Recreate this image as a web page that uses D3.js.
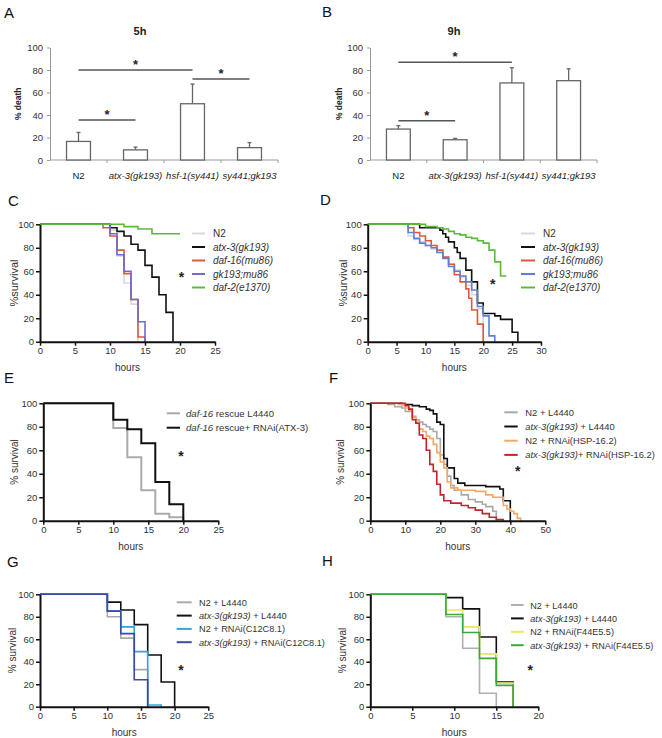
<!DOCTYPE html>
<html><head><meta charset="utf-8">
<script src="https://cdn.jsdelivr.net/npm/d3@7"></script>
<style>body{margin:0;background:#fff} svg{display:block;font-family:"Liberation Sans",Arial,sans-serif}</style>
</head><body><svg id="c" width="662" height="738"></svg>
<script>
// ---------------- DATA ----------------
const barCategories = ["N2", "atx-3(gk193)", "hsf-1(sy441)", "sy441;gk193"];
const barTicks = [0, 20, 40, 60, 80, 100];
const death5h = [16.5, 9, 50, 11];
const death5hErr = [8, 2.5, 17.5, 4.5];
const sig5h = [[0, 1, 35.5], [0, 2, 80], [2, 3, 72]];
const death9h = [27.5, 18, 68.5, 70.5];
const death9hErr = [3, 1.2, 13.5, 10.5];
const sig9h = [[0, 1, 35], [0, 2, 87]];
const survTicksY = [0, 20, 40, 60, 80, 100];

// Panel C
const cTicksX = [0, 5, 10, 15, 20, 25];
const cN2 = [[0,100],[10,95],[11,73],[12,50],[13,32],[14,0]];
const cAtx3 = [[0,100],[10,97],[11,94],[12,90],[13,83],[14,78],[15,65],[16,55],[17,40],[18,25],[19,0]];
const cDaf16 = [[0,100],[9,97],[10,90],[11,78],[12,58],[13,36],[14,4],[15,0]];
const cGkMu = [[0,100],[10,92],[11,74],[12,60],[13,36],[14,17],[15,0]];
const cDaf2 = [[0,100],[12,98],[14,96],[16,92],[20,92]];
const cLabels = [["", "N2"], ["atx-3(gk193)", ""], ["daf-16(mu86)", ""], ["gk193;mu86", ""], ["daf-2(e1370)", ""]];

// Panel D
const dTicksX = [0, 5, 10, 15, 20, 25, 30];
const dN2 = [[0,100],[7,90],[8,87],[9,85],[10,82],[11,79],[12,76],[13,72],[14,66],[15,61],[16,55],[17,48],[18,40],[19,28],[20,0]];
const dAtx3 = [[0,100],[9,97],[12.5,95],[13,92],[13.5,89],[14,85],[15,80],[15.5,76],[16,71],[17,61],[18,51],[19,33],[20,24],[22,22],[23,19],[25,8],[26,0]];
const dDaf16 = [[0,100],[7,97],[8,93],[9,90],[10,86],[11,82],[12,78],[13,72],[14,66],[15,57],[16,51],[17,45],[17.5,37],[18,27],[19,15],[20,0]];
const dGkMu = [[0,100],[7,93],[8,88],[9,84],[10,82],[11,80],[12,76],[13,71],[14,64],[15,60],[16,56],[17,51],[18,44],[19,30],[20,22],[21,5],[22,0]];
const dDaf2 = [[0,100],[10,98],[12,97],[13,96],[14,94],[15,92],[16,91],[17,89],[18,88],[19,86],[20,84],[21,78],[22,68],[23,56],[24,56]];
const dLabels = cLabels;

// Panel E
const eTicksX = [0, 5, 10, 15, 20, 25];
const eL4440 = [[0,100],[10,79],[12,54],[14,26],[16,6],[18,3],[20,0]];
const eAtx3 = [[0,100],[10,86],[12,78],[14,66],[16,33],[18,14],[20,0]];
const eLabels = [["daf-16", " rescue L4440"], ["daf-16", " rescue+ RNAi(ATX-3)"]];

// Panel F
const fTicksX = [0, 10, 20, 30, 40, 50];
const fN2L = [[0,100],[5,99],[7,97],[9,96],[10,93],[12,89],[13,86],[14,84],[15,82],[16,80],[17,78],[18,76],[19,70],[20,56],[21,48],[22,38],[23,30],[24,26],[26,22],[28,18],[30,16],[32,14],[33,12],[35,8],[36,0]];
const fAtxL = [[0,100],[9,99],[12,98],[14,97],[16,95],[17,94],[18,91],[19,84],[20,82],[21,53],[22,45],[24,36],[25,32],[27,30],[33,29],[37,27],[38,17],[40,0]];
const fN2H = [[0,100],[8,99],[10,96],[11,94],[12,88],[13,84],[14,78],[15,76],[16,72],[17,70],[18,65],[19,58],[20,50],[21,45],[22,33],[23,28],[25,26],[30,25],[33,22],[35,20],[38,13],[39,10],[40,8],[41,6],[42,2],[43,0]];
const fAtxH = [[0,100],[10,98],[11,95],[12,86],[13,83],[14,73],[15,70],[16,60],[17,48],[18,42],[19,31],[20,22],[21,17],[23,15],[26,13],[28,11],[30,9],[32,6],[34,3],[36,1],[38,0]];
const fLabels = [["", "N2 + L4440"], ["atx-3(gk193)", " + L4440"], ["", "N2 + RNAi(HSP-16.2)"], ["atx-3(gk193)", "+ RNAi(HSP-16.2)"]];

// Panel G
const gTicksX = [0, 5, 10, 15, 20, 25];
const gN2L = [[0,100],[10,80],[12,61],[14,33],[16,0]];
const gAtxL = [[0,100],[10,93],[12,86],[14,73],[16,46],[18,22],[20,0]];
const gN2C = [[0,100],[10,85],[12,71],[14,49],[16,1.5],[18,0]];
const gAtxC = [[0,100],[10,85],[12,65],[14,24],[16,0]];
const gLabels = [["", "N2 + L4440"], ["atx-3(gk193)", " + L4440"], ["", "N2 + RNAi(C12C8.1)"], ["atx-3(gk193)", " + RNAi(C12C8.1)"]];

// Panel H
const hTicksX = [0, 5, 10, 15, 20];
const hN2L = [[0,100],[9,80],[11,52],[13,12],[15,0]];
const hAtxL = [[0,100],[9,97],[11,87],[13,62],[15,22],[17,0]];
const hN2F = [[0,100],[9,86],[11,71],[13,47],[15,21],[17,0]];
const hAtxF = [[0,100],[9,82],[11,66],[13,43],[15,19],[17,0]];
const hLabels = [["", "N2 + L4440"], ["atx-3(gk193)", " + L4440"], ["", "N2 + RNAi(F44E5.5)"], ["atx-3(gk193)", " + RNAi(F44E5.5)"]];

// ---------------- DRAWING ----------------
const svg = d3.select("#c");

function panelLetter(t, x, y) {
  svg.append("text").attr("x", x).attr("y", y).attr("font-size", 15).attr("fill", "#111").text(t);
}

function barPanel(o) {
  const g = svg.append("g");
  const y = d3.scaleLinear().domain([0, 100]).range([o.y0, o.y100]);
  const x = d3.scaleBand().domain(barCategories).range([o.xl, o.xr]);
  const ya = g.append("g").attr("transform", `translate(${o.xl},0)`)
    .call(d3.axisLeft(y).tickValues(barTicks).tickSize(3).tickSizeOuter(0).tickPadding(4));
  ya.select(".domain").attr("stroke", "#999");
  ya.selectAll(".tick line").attr("stroke", "#999");
  ya.selectAll("text").attr("font-size", 9.5).attr("fill", "#333").attr("font-family", "Liberation Sans");
  g.append("line").attr("x1", o.xl).attr("x2", o.xr).attr("y1", o.y0).attr("y2", o.y0).attr("stroke", "#999");
  barCategories.forEach((c, i) => {
    if (i > 0) g.append("line").attr("x1", x(c)).attr("x2", x(c)).attr("y1", o.y0).attr("y2", o.y0 + 3).attr("stroke", "#999");
  });
  g.append("line").attr("x1", o.xr).attr("x2", o.xr).attr("y1", o.y0).attr("y2", o.y0 + 3).attr("stroke", "#999");
  const bw = x.bandwidth() * 0.42;
  const cx = c => x(c) + x.bandwidth() / 2;
  barCategories.forEach((c, i) => {
    const v = o.values[i], e = o.err[i];
    g.append("line").attr("x1", cx(c)).attr("x2", cx(c)).attr("y1", y(v)).attr("y2", y(v + e)).attr("stroke", "#666").attr("stroke-width", 1.3);
    g.append("line").attr("x1", cx(c) - 2).attr("x2", cx(c) + 2).attr("y1", y(v + e)).attr("y2", y(v + e)).attr("stroke", "#666").attr("stroke-width", 1.3);
    g.append("rect").attr("x", cx(c) - bw / 2).attr("y", y(v)).attr("width", bw).attr("height", o.y0 - y(v))
      .attr("fill", "#fff").attr("stroke", "#666").attr("stroke-width", 1.3);
    g.append("text").attr("x", cx(c)).attr("y", o.y0 + 19).attr("text-anchor", "middle").attr("font-size", 9.5)
      .attr("font-style", i === 0 ? "normal" : "italic").attr("fill", "#222").text(c);
  });
  o.sig.forEach(s => {
    const a = cx(barCategories[s[0]]), b = cx(barCategories[s[1]]);
    g.append("line").attr("x1", a).attr("x2", b).attr("y1", y(s[2])).attr("y2", y(s[2])).attr("stroke", "#555").attr("stroke-width", 1.5);
    g.append("text").attr("x", (a + b) / 2).attr("y", y(s[2]) - 1).attr("text-anchor", "middle").attr("font-size", 13).attr("font-weight", "bold").attr("fill", "#222").text("*");
  });
  g.append("text").attr("x", o.titleX).attr("y", 35).attr("text-anchor", "middle").attr("font-size", 11).attr("font-weight", "bold").attr("fill", "#222").text(o.title);
  g.append("text").attr("transform", `translate(${o.ylabX},${(o.y0 + o.y100) / 2}) rotate(-90)`).attr("text-anchor", "middle")
    .attr("font-size", 8.5).attr("font-weight", "bold").attr("fill", "#222").text("% death");
}

function survPanel(o) {
  const g = svg.append("g");
  const x = d3.scaleLinear().domain([0, o.xmax]).range([o.x0, o.x1]);
  const y = d3.scaleLinear().domain([0, 100]).range([o.yb, o.yt]);
  const line = d3.line().x(d => x(d[0])).y(d => y(d[1])).curve(d3.curveStepAfter);
  o.series.forEach(s => {
    g.append("path").attr("d", line(s.data)).attr("fill", "none").attr("stroke", s.color).attr("stroke-width", o.lw || 1.6);
  });
  const ya = g.append("g").attr("transform", `translate(${o.x0},0)`)
    .call(d3.axisLeft(y).tickValues(survTicksY).tickSize(4).tickSizeOuter(0).tickPadding(2));
  const xa = g.append("g").attr("transform", `translate(0,${o.yb})`)
    .call(d3.axisBottom(x).tickValues(o.xticks).tickSize(4).tickSizeOuter(0).tickPadding(2));
  [ya, xa].forEach(a => {
    a.select(".domain").attr("stroke", "#111").attr("stroke-width", 2);
    a.selectAll(".tick line").attr("stroke", "#111").attr("stroke-width", 1.5);
    a.selectAll("text").attr("font-size", 9.5).attr("fill", "#333").attr("font-family", "Liberation Sans");
  });
  g.append("text").attr("x", (o.x0 + o.x1) / 2).attr("y", o.yb + 29).attr("text-anchor", "middle").attr("font-size", 10).attr("fill", "#333").text("hours");
  g.append("text").attr("transform", `translate(${o.ylabX},${(o.yb + o.yt) / 2}) rotate(-90)`).attr("text-anchor", "middle")
    .attr("font-size", o.ylabSize || 10).attr("fill", "#333").text(o.ylab);
  o.series.forEach((s, i) => {
    const ly = o.legY + i * o.legDy;
    g.append("line").attr("x1", o.legX).attr("x2", o.legX + o.legLen).attr("y1", ly).attr("y2", ly).attr("stroke", s.color).attr("stroke-width", 2);
    const t = g.append("text").attr("x", o.legX + o.legLen + o.legGap).attr("y", ly + 3.5).attr("font-size", o.legFs || 10).attr("fill", "#333");
    if (s.label[0]) t.append("tspan").attr("font-style", "italic").text(s.label[0]);
    if (s.label[1]) t.append("tspan").text(s.label[1]);
  });
  g.append("text").attr("x", o.starX).attr("y", o.starY + 6).attr("text-anchor", "middle").attr("font-size", 14).attr("font-weight", "bold").attr("fill", "#222").text("*");
}

panelLetter("A", 4, 18); panelLetter("B", 322, 17);
panelLetter("C", 8, 206); panelLetter("D", 320, 205);
panelLetter("E", 4, 383); panelLetter("F", 329, 383);
panelLetter("G", 7, 567); panelLetter("H", 322, 566);

barPanel({xl: 50, xr: 278, y0: 160, y100: 47.5, values: death5h, err: death5hErr, sig: sig5h, title: "5h", titleX: 140, ylabX: 21});
barPanel({xl: 370, xr: 597, y0: 160, y100: 47.5, values: death9h, err: death9hErr, sig: sig9h, title: "9h", titleX: 454, ylabX: 342});

survPanel({x0: 40, x1: 215, xmax: 25, xticks: cTicksX, yt: 224.3, yb: 341.7, ylab: "%survival", ylabX: 18, ylabSize: 11,
  series: [
    {data: cN2, color: "#d9d9d9", label: cLabels[0]},
    {data: cAtx3, color: "#111", label: cLabels[1]},
    {data: cDaf16, color: "#e0583c", label: cLabels[2]},
    {data: cGkMu, color: "#6f6bd0", label: cLabels[3]},
    {data: cDaf2, color: "#5cb83c", label: cLabels[4]}],
  legX: 192, legLen: 13, legGap: 8, legY: 233.5, legDy: 13.5, legFs: 10, starX: 181.5, starY: 276});

survPanel({x0: 367.7, x1: 541, xmax: 30, xticks: dTicksX, yt: 224.3, yb: 341.7, ylab: "%survival", ylabX: 347, ylabSize: 11,
  series: [
    {data: dN2, color: "#d9d9d9", label: dLabels[0]},
    {data: dAtx3, color: "#111", label: dLabels[1]},
    {data: dDaf16, color: "#e0583c", label: dLabels[2]},
    {data: dGkMu, color: "#5b80d6", label: dLabels[3]},
    {data: dDaf2, color: "#5cb83c", label: dLabels[4]}],
  legX: 521, legLen: 14, legGap: 8, legY: 233.5, legDy: 13.5, legFs: 10, starX: 492.7, starY: 283});

survPanel({x0: 43.3, x1: 218.3, xmax: 25, xticks: eTicksX, yt: 403.3, yb: 520.7, ylab: "% survival", ylabX: 18, lw: 2,
  series: [
    {data: eL4440, color: "#aaaaaa", label: eLabels[0]},
    {data: eAtx3, color: "#111", label: eLabels[1]}],
  legX: 166.7, legLen: 13.3, legGap: 6, legY: 413.3, legDy: 14.4, legFs: 9.6, starX: 181, starY: 455});

survPanel({x0: 370.3, x1: 545.3, xmax: 50, xticks: fTicksX, yt: 403.3, yb: 520.7, ylab: "% survival", ylabX: 344,
  series: [
    {data: fN2L, color: "#a9a9a9", label: fLabels[0]},
    {data: fAtxL, color: "#111", label: fLabels[1]},
    {data: fN2H, color: "#f5a865", label: fLabels[2]},
    {data: fAtxH, color: "#c0262c", label: fLabels[3]}],
  legX: 504.3, legLen: 13.4, legGap: 7.6, legY: 412.3, legDy: 14.2, legFs: 9.4, starX: 517.7, starY: 470});

survPanel({x0: 40, x1: 208.3, xmax: 25, xticks: gTicksX, yt: 594.3, yb: 706.7, ylab: "% survival", ylabX: 16,
  series: [
    {data: gN2L, color: "#aaaaaa", label: gLabels[0]},
    {data: gAtxL, color: "#111", label: gLabels[1]},
    {data: gN2C, color: "#2aaad8", label: gLabels[2]},
    {data: gAtxC, color: "#3b4aa6", label: gLabels[3]}],
  legX: 176.7, legLen: 15, legGap: 7.3, legY: 602.3, legDy: 13.3, legFs: 9.2, starX: 181, starY: 669});

survPanel({x0: 370.3, x1: 538.3, xmax: 20, xticks: hTicksX, yt: 594.3, yb: 706.7, ylab: "% survival", ylabX: 346,
  series: [
    {data: hN2L, color: "#b0b0b0", label: hLabels[0]},
    {data: hAtxL, color: "#111", label: hLabels[1]},
    {data: hN2F, color: "#ece65c", label: hLabels[2]},
    {data: hAtxF, color: "#3aa83a", label: hLabels[3]}],
  legX: 511, legLen: 12.7, legGap: 6.6, legY: 605, legDy: 13.4, legFs: 9.1, starX: 530.3, starY: 669});
</script></body></html>
